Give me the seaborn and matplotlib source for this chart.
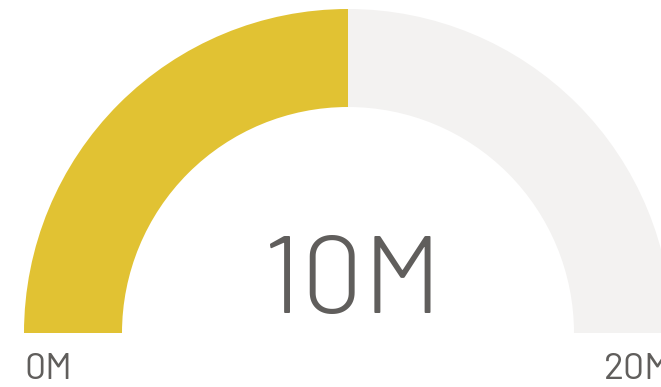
import matplotlib
matplotlib.use("Agg")
import matplotlib.pyplot as plt
import seaborn as sns

# Gauge values (millions)
gauge_min = 0
gauge_max = 20
gauge_value = 10
range_labels = ["0M", "20M"]
value_label = "10M"

fill_color = "#E1C233"
track_color = "#F3F2F1"
text_color = "#605E5C"

sns.set_theme(style="white")
plt.rcParams["font.family"] = ["Barlow", "DejaVu Sans"]

fig = plt.figure(figsize=(6.61, 3.87), dpi=100)
ax = fig.add_axes([0, 0, 1, 1])

# Half-donut: the full gauge span maps onto 180 degrees
span = gauge_max - gauge_min
filled = (gauge_value - gauge_min) / span / 2
remaining = (gauge_max - gauge_value) / span / 2
ax.pie(
    [filled, remaining],
    colors=[fill_color, track_color],
    startangle=180,
    counterclock=False,
    normalize=False,
    center=(348, 54),
    radius=324,
    wedgeprops=dict(width=98, linewidth=0),
)

ax.set_xlim(0, 661)
ax.set_ylim(0, 387)
ax.set_aspect("equal")
ax.axis("off")

ax.text(352, 74, value_label, ha="center", va="baseline", fontsize=79,
        fontweight=300, color=text_color)
ax.text(24, 8, range_labels[0], ha="left", va="baseline", fontsize=27,
        fontweight=400, color=text_color)
ax.text(604, 8, range_labels[1], ha="left", va="baseline", fontsize=27,
        fontweight=400, color=text_color)

fig.savefig("out.png", dpi=100)
